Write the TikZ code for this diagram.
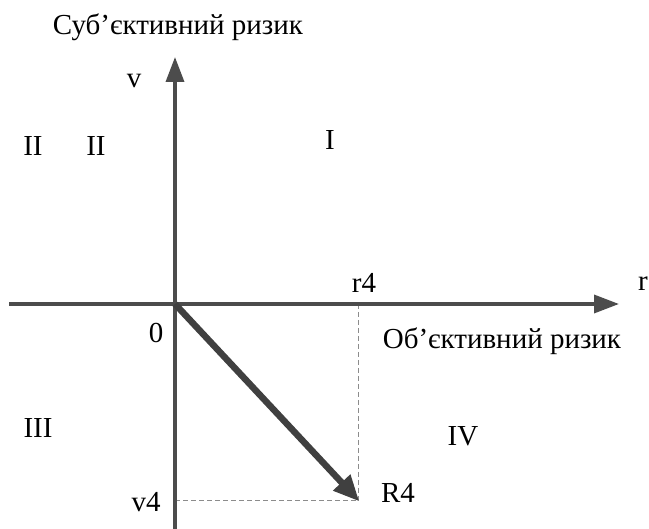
\documentclass[tikz,border=0pt]{standalone}
\usepackage{fontspec}
\setmainfont{Liberation Serif}
\usetikzlibrary{arrows.meta}
\begin{document}
\begin{tikzpicture}[x=1pt,y=-1pt,
  axis/.style={draw=black!70, line width=3.5pt, -{Triangle[length=25pt,width=18pt]}},
  vec/.style={draw=black!75, line width=6.5pt, -{Triangle[length=26pt,width=22pt]}},
  guide/.style={draw=black!45, line width=0.8pt, dash pattern=on 5pt off 3pt},
  lbl/.style={font=\fontsize{29}{33}\selectfont, inner sep=0pt}]
\useasboundingbox (0,0) rectangle (649,529);
\coordinate (O) at (175,304);
\coordinate (xl) at (9,304);
\coordinate (xr) at (619,304);
\coordinate (yb) at (175,529);
\coordinate (yt) at (175,57);
\coordinate (R) at (358,500);
\coordinate (Rx) at (358,304);
\coordinate (Ry) at (175,500);
\draw[guide] (Rx) -- (R);
\draw[guide] (Ry) -- (R);
\draw[axis] (xl) -- (xr);
\draw[axis] (yb) -- (yt);
\draw[vec, shorten >=-2pt] (O) -- (R);
\node[lbl] (tsub) at (178,27) {Суб’єктивний ризик};
\node[lbl] (tobj) at (502,341) {Об’єктивний ризик};
\node[lbl] (tv) at (134,81) {v};
\node[lbl] (tr) at (643,284) {r};
\node[lbl] (tII1) at (33,146) {II};
\node[lbl] (tII2) at (96,146) {II};
\node[lbl] (tI) at (330,140) {I};
\node[lbl] (tIII) at (38,428) {III};
\node[lbl] (tIV) at (463,436) {IV};
\node[lbl] (t0) at (156,333) {0};
\node[lbl] (tr4) at (364,283) {r4};
\node[lbl] (tR4) at (398,493) {R4};
\node[lbl] (tv4) at (146,502) {v4};
\end{tikzpicture}
\end{document}
